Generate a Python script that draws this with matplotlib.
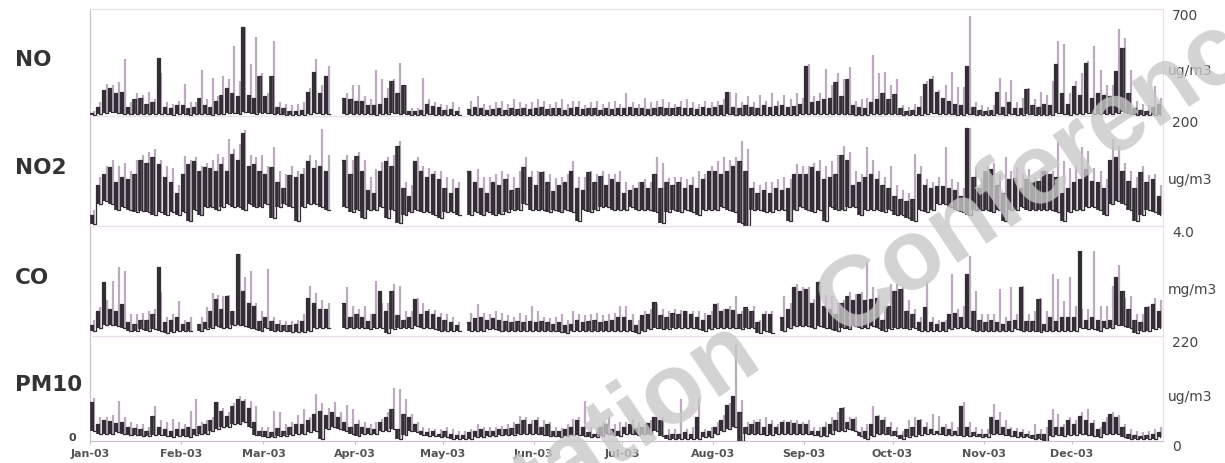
# Hourly air quality at the station, 2003: NO, NO2, CO and PM10 stacked panels
import numpy as np
import matplotlib
matplotlib.use('Agg')
import matplotlib.pyplot as plt

nan = np.nan

month_labels = ['Jan-03', 'Feb-03', 'Mar-03', 'Apr-03', 'May-03', 'Jun-03',
                'Jul-03', 'Aug-03', 'Sep-03', 'Oct-03', 'Nov-03', 'Dec-03']
month_days = [31, 28, 31, 30, 31, 30, 31, 31, 30, 31, 30, 31]

# every row is one month, 15 values of about two days each
# lo / hi = range of the dark trace, peak = top of the light trace

no_lo = [
    5, 15, 20, 25, 20, 15, 10, 15, 12, 10, 10, 15, 10, 8, 10,
    10, 8, 10, 15, 10, 8, 12, 15, 20, 20, 15, 25, 20, 15, 20,
    20, 15, 10, 8, 8, 6, 8, 15, 20, 15, 15, nan, nan, 15, 12,
    12, 10, 10, 8, 10, 15, 20, 15, 10, 5, 5, 8, 10, 8, 8,
    5, 5, 5, nan, 5, 5, 6, 5, 5, 5, 6, 5, 6, 5, 5,
    5, 6, 5, 5, 6, 5, 5, 6, 5, 5, 6, 5, 5, 6, 5,
    6, 5, 5, 6, 5, 5, 6, 5, 5, 6, 5, 6, 5, 5, 6,
    6, 8, 10, 8, 6, 8, 6, 6, 8, 6, 8, 8, 6, 8, 10,
    15, 10, 10, 12, 10, 15, 10, 15, 8, 8, 6, 10, 12, 15, 12,
    15, 6, 5, 6, 8, 15, 20, 15, 10, 10, 8, 8, 15, 6, 5,
    5, 5, 15, 8, 10, 6, 6, 15, 8, 8, 8, 8, 20, 15, 8,
    15, 12, 20, 12, 15, 12, 12, 20, 25, 12, 5, 5, 5, 6, 8]
no_hi = [
    20, 60, 170, 185, 150, 160, 60, 110, 120, 80, 90, 380, 60, 50, 70,
    75, 50, 60, 120, 70, 60, 100, 140, 185, 150, 130, 580, 140, 120, 260,
    130, 263, 60, 50, 35, 30, 40, 160, 285, 150, 263, nan, nan, 120, 110,
    95, 100, 75, 70, 80, 120, 230, 150, 200, 35, 30, 40, 80, 65, 60,
    40, 45, 30, nan, 45, 60, 50, 40, 45, 50, 40, 55, 45, 50, 45,
    50, 60, 45, 55, 50, 40, 55, 60, 45, 50, 55, 40, 50, 45, 55,
    50, 60, 55, 50, 45, 55, 60, 50, 55, 60, 50, 55, 45, 60, 55,
    60, 70, 160, 60, 50, 70, 60, 55, 70, 60, 65, 70, 60, 65, 80,
    330, 90, 100, 110, 120, 220, 130, 240, 70, 60, 55, 90, 110, 150, 110,
    144, 50, 35, 40, 60, 210, 240, 155, 120, 100, 80, 70, 330, 60, 40,
    35, 40, 155, 60, 90, 50, 55, 174, 70, 60, 80, 70, 340, 150, 80,
    196, 140, 350, 120, 150, 140, 130, 294, 447, 150, 55, 40, 35, 60, 80]
no_peak = [
    30, 90, 210, 200, 220, 370, 90, 150, 140, 160, 110, 280, 90, 80, 100,
    210, 90, 90, 300, 110, 250, 130, 260, 240, 460, 230, 580, 340, 515, 280,
    150, 490, 90, 80, 70, 80, 90, 180, 370, 200, 330, nan, nan, 150, 200,
    200, 130, 110, 300, 240, 180, 240, 350, 200, 55, 55, 250, 110, 90, 80,
    70, 90, 60, nan, 100, 130, 80, 70, 90, 100, 80, 110, 90, 80, 90,
    110, 100, 80, 90, 110, 80, 100, 95, 70, 90, 100, 80, 90, 100, 80,
    150, 90, 80, 120, 90, 100, 110, 90, 80, 100, 110, 90, 80, 100, 90,
    100, 110, 160, 150, 90, 130, 90, 140, 100, 150, 100, 140, 110, 150, 120,
    340, 130, 150, 310, 200, 280, 240, 320, 100, 110, 120, 400, 280, 290, 200,
    242, 70, 60, 80, 130, 230, 260, 170, 200, 285, 190, 190, 656, 90, 70,
    60, 70, 250, 160, 233, 90, 120, 180, 110, 160, 140, 230, 490, 470, 150,
    230, 280, 360, 460, 300, 200, 200, 567, 510, 300, 100, 80, 70, 196, 120]

no2_lo = [
    4, 40, 45, 40, 30, 35, 30, 25, 28, 25, 20, 25, 20, 25, 20,
    25, 10, 30, 20, 35, 35, 30, 35, 40, 35, 35, 30, 40, 35, 35,
    40, 15, 35, 40, 35, 10, 35, 40, 40, 35, 30, nan, nan, 35, 25,
    30, 15, 30, 30, 35, 15, 30, 5, 20, 25, 30, 25, 25, 20, 15,
    25, 25, 20, nan, 20, 25, 20, 25, 20, 22, 25, 30, 30, 40, 30,
    30, 30, 25, 30, 25, 30, 25, 10, 30, 25, 30, 35, 35, 30, 30,
    30, 35, 30, 30, 30, 25, 5, 25, 30, 25, 30, 25, 20, 30, 30,
    30, 35, 30, 25, 5, 0, 30, 30, 25, 25, 30, 30, 10, 30, 35,
    30, 25, 30, 10, 35, 30, 30, 35, 35, 20, 30, 30, 30, 25, 30,
    20, 20, 15, 10, 30, 25, 30, 40, 40, 35, 30, 25, 20, 30, 30,
    30, 25, 30, 10, 30, 30, 35, 30, 30, 30, 30, 30, 25, 10, 25,
    30, 30, 35, 35, 30, 20, 40, 45, 40, 30, 10, 20, 30, 25, 20]
no2_hi = [
    20, 75, 95, 107, 80, 90, 85, 95, 120, 115, 125, 113, 90, 80, 60,
    95, 113, 119, 100, 107, 105, 100, 113, 100, 131, 120, 170, 110, 113, 100,
    95, 107, 80, 70, 92, 90, 95, 119, 105, 110, 100, nan, nan, 120, 95,
    128, 100, 65, 60, 100, 119, 110, 146, 70, 55, 119, 100, 90, 95, 85,
    70, 60, 70, nan, 100, 80, 70, 60, 80, 75, 85, 65, 70, 107, 90,
    75, 98, 80, 64, 75, 80, 100, 70, 65, 98, 80, 91, 75, 85, 80,
    60, 65, 70, 80, 70, 94, 70, 80, 75, 80, 70, 75, 70, 85, 100,
    100, 95, 100, 110, 119, 100, 70, 60, 65, 60, 70, 65, 70, 95, 95,
    95, 107, 100, 85, 90, 95, 130, 120, 75, 80, 90, 95, 85, 75, 70,
    55, 50, 45, 50, 95, 75, 70, 73, 73, 70, 65, 55, 179, 90, 70,
    100, 104, 75, 60, 85, 88, 70, 85, 80, 82, 100, 94, 90, 60, 70,
    80, 85, 104, 82, 80, 70, 120, 125, 100, 82, 70, 98, 80, 85, 55]
no2_peak = [
    30, 90, 110, 120, 110, 115, 100, 120, 130, 135, 140, 120, 110, 105, 75,
    128, 120, 125, 110, 115, 120, 131, 125, 158, 140, 149, 175, 130, 125, 130,
    110, 143, 100, 95, 110, 100, 105, 130, 120, 176, 130, nan, nan, 130, 120,
    135, 120, 90, 103, 116, 125, 130, 155, 80, 75, 125, 110, 105, 100, 100,
    90, 85, 80, nan, 100, 104, 90, 90, 95, 100, 95, 90, 100, 125, 100,
    100, 100, 95, 88, 90, 95, 119, 90, 90, 100, 95, 100, 95, 95, 100,
    80, 75, 80, 85, 80, 125, 115, 88, 90, 90, 85, 90, 100, 95, 110,
    119, 125, 120, 125, 155, 140, 80, 75, 80, 80, 85, 90, 85, 113, 110,
    110, 115, 120, 110, 119, 130, 146, 135, 100, 95, 143, 120, 100, 90, 110,
    75, 65, 60, 131, 110, 85, 80, 90, 143, 85, 80, 70, 179, 107, 85,
    110, 115, 95, 125, 100, 108, 95, 104, 90, 100, 100, 100, 152, 119, 105,
    110, 143, 137, 105, 100, 85, 158, 145, 115, 100, 90, 110, 92, 95, 75]

co_lo = [
    0.2, 0.3, 0.4, 0.4, 0.35, 0.3, 0.2, 0.2, 0.25, 0.2, 0.25, 0.2, 0.1, 0.15, 0.2,
    0.2, 0.2, nan, 0.2, 0.25, 0.3, 0.35, 0.3, 0.3, 0.4, 0.4, 0.35, 0.3, 0.25, 0.2,
    0.3, 0.2, 0.2, 0.2, 0.15, 0.15, 0.15, 0.2, 0.3, 0.3, 0.3, nan, nan, 0.3, 0.3,
    0.3, 0.3, 0.25, 0.3, 0.3, 0.1, 0.25, 0.3, 0.3, 0.3, 0.35, 0.3, 0.3, 0.25, 0.2,
    0.2, 0.2, 0.2, nan, 0.2, 0.2, 0.2, 0.25, 0.25, 0.2, 0.2, 0.2, 0.2, 0.2, 0.2,
    0.2, 0.2, 0.2, 0.2, 0.15, 0.1, 0.2, 0.2, 0.2, 0.2, 0.2, 0.2, 0.2, 0.2, 0.2,
    0.2, 0.2, 0.1, 0.2, 0.25, 0.3, 0.25, 0.25, 0.3, 0.3, 0.3, 0.3, 0.25, 0.2, 0.25,
    0.3, 0.3, 0.3, 0.3, 0.25, 0.3, 0.3, 0.1, 0.2, 0.1, nan, 0.2, 0.3, 0.35, 0.35,
    0.35, 0.3, 0.35, 0.3, 0.25, 0.2, 0.3, 0.25, 0.35, 0.3, 0.3, 0.35, 0.3, 0.2, 0.25,
    0.3, 0.3, 0.25, 0.3, 0.2, 0.2, 0.2, 0.2, 0.2, 0.25, 0.3, 0.3, 0.3, 0.2, 0.2,
    0.2, 0.2, 0.2, 0.2, 0.2, 0.25, 0.2, 0.2, 0.2, 0.15, 0.2, 0.2, 0.2, 0.2, 0.2,
    0.2, 0.3, 0.25, 0.25, 0.2, 0.3, 0.3, 0.4, 0.35, 0.3, 0.1, 0.2, 0.2, 0.25, 0.3]
co_hi = [
    0.4, 0.9, 1.95, 1.0, 0.9, 1.16, 0.5, 0.45, 0.6, 0.6, 0.8, 2.5, 0.5, 0.6, 0.7,
    0.45, 0.5, nan, 0.45, 0.5, 0.9, 1.35, 1.0, 1.47, 0.9, 2.98, 1.65, 1.2, 1.1, 0.55,
    0.7, 0.55, 0.45, 0.4, 0.4, 0.45, 0.55, 1.4, 1.2, 1.0, 1.0, nan, nan, 1.2, 0.7,
    0.8, 0.7, 0.55, 0.8, 1.65, 0.9, 1.65, 0.75, 0.6, 0.7, 1.35, 0.8, 0.9, 0.8, 0.7,
    0.6, 0.5, 0.4, nan, 0.5, 0.65, 0.7, 0.6, 0.65, 0.6, 0.55, 0.5, 0.55, 0.5, 0.55,
    0.5, 0.55, 0.5, 0.45, 0.5, 0.4, 0.45, 0.6, 0.5, 0.55, 0.6, 0.5, 0.55, 0.6, 0.7,
    0.7, 0.6, 0.4, 0.75, 0.8, 1.22, 0.75, 0.7, 0.85, 0.8, 0.92, 0.8, 0.7, 0.6, 0.75,
    1.16, 0.9, 1.0, 0.95, 0.8, 1.04, 0.9, 0.5, 0.8, 0.8, nan, 0.7, 1.0, 1.77, 1.65,
    1.7, 1.2, 1.95, 1.1, 1.0, 0.8, 1.2, 1.47, 1.3, 1.53, 1.3, 1.35, 1.4, 0.6, 1.1,
    1.65, 1.7, 0.9, 0.8, 0.5, 1.04, 0.5, 0.45, 0.5, 0.8, 0.85, 0.7, 2.25, 0.9, 0.6,
    0.5, 0.6, 0.5, 0.45, 0.55, 0.6, 1.77, 0.55, 0.55, 1.35, 0.45, 0.7, 0.55, 0.7, 0.7,
    0.7, 3.1, 0.6, 0.7, 0.6, 0.55, 0.6, 2.13, 1.65, 1.0, 0.6, 0.5, 1.04, 1.16, 0.9]
co_peak = [
    0.6, 1.04, 1.3, 2.0, 2.5, 2.37, 0.8, 0.8, 0.85, 0.9, 1.0, 1.6, 0.7, 0.8, 1.28,
    0.6, 0.7, nan, 0.7, 1.04, 1.58, 1.5, 1.47, 1.5, 0.9, 2.98, 2.13, 2.37, 1.2, 0.9,
    2.44, 0.7, 0.6, 0.55, 0.55, 0.6, 0.8, 1.83, 1.58, 1.3, 1.2, nan, nan, 1.8, 1.1,
    1.0, 1.1, 0.8, 2.0, 1.2, 1.2, 1.9, 1.83, 0.9, 0.9, 1.4, 1.2, 1.0, 0.95, 0.85,
    0.8, 0.7, 0.5, nan, 0.85, 1.16, 0.85, 0.8, 0.9, 0.85, 0.75, 0.7, 0.85, 0.75, 1.1,
    0.9, 0.7, 0.65, 0.7, 0.8, 0.6, 0.92, 0.8, 0.75, 0.8, 0.85, 0.75, 0.8, 0.85, 1.1,
    1.1, 0.8, 0.6, 0.9, 1.0, 1.16, 1.0, 0.92, 1.0, 0.95, 0.9, 0.9, 0.9, 0.85, 0.92,
    1.2, 1.0, 1.1, 1.47, 0.9, 1.0, 1.1, 0.6, 0.9, 0.92, nan, 1.47, 1.2, 1.9, 1.77,
    1.8, 1.35, 2.0, 1.5, 1.47, 1.2, 1.3, 1.6, 1.53, 1.6, 2.68, 1.77, 1.5, 1.1, 1.9,
    1.9, 1.8, 1.3, 1.0, 0.7, 1.95, 0.7, 0.6, 0.6, 2.25, 1.0, 1.1, 2.92, 1.65, 0.8,
    0.8, 0.8, 1.7, 0.7, 1.77, 0.8, 1.83, 0.8, 0.9, 1.4, 0.9, 2.25, 2.07, 1.28, 2.13,
    1.1, 1.0, 1.0, 3.1, 1.1, 1.1, 1.83, 2.6, 1.4, 1.47, 0.8, 0.8, 1.1, 1.4, 1.3]

pm10_lo = [
    20, 15, 15, 15, 18, 15, 12, 12, 10, 10, 12, 12, 10, 8, 10,
    10, 8, 12, 15, 15, 20, 25, 30, 30, 35, 35, 40, 30, 12, 10,
    8, 8, 10, 10, 12, 15, 15, 18, 20, 5, 25, 30, 25, 20, 15,
    10, 15, 15, 15, 20, 20, 25, 5, 12, 20, 18, 12, 10, 10, 8,
    8, 5, 5, 5, 5, 8, 8, 10, 10, 12, 12, 12, 15, 15, 15,
    15, 12, 10, 10, 8, 10, 12, 12, 10, 8, 8, 10, 15, 12, 10,
    15, 15, 12, 15, 15, 20, 10, 5, 5, 5, 5, 5, 5, 8, 8,
    15, 20, 25, 30, 0, 15, 15, 15, 12, 12, 15, 15, 15, 15, 15,
    15, 12, 10, 10, 15, 20, 20, 25, 20, 10, 5, 10, 15, 15, 12,
    10, 5, 8, 10, 12, 15, 15, 15, 12, 12, 12, 10, 10, 10, 8,
    8, 15, 15, 12, 10, 8, 8, 8, 5, 5, 0, 10, 12, 10, 12,
    12, 15, 12, 10, 8, 15, 15, 15, 8, 5, 5, 5, 5, 5, 8]
pm10_hi = [
    81, 35, 43, 42, 38, 40, 30, 28, 25, 22, 53, 30, 25, 20, 25,
    25, 30, 25, 32, 35, 45, 81, 63, 53, 74, 88, 84, 70, 40, 22,
    20, 18, 28, 22, 30, 35, 35, 43, 57, 63, 55, 60, 50, 40, 30,
    35, 30, 28, 25, 40, 50, 67, 25, 57, 50, 35, 20, 18, 20, 15,
    22, 15, 12, 12, 18, 20, 25, 22, 22, 25, 25, 28, 35, 43, 35,
    45, 30, 35, 22, 20, 25, 30, 43, 30, 18, 15, 30, 35, 25, 22,
    30, 35, 28, 30, 38, 50, 45, 12, 15, 15, 18, 15, 50, 18, 20,
    30, 43, 75, 95, 60, 30, 35, 40, 30, 35, 30, 40, 40, 38, 35,
    35, 22, 20, 30, 35, 45, 70, 40, 46, 18, 20, 35, 53, 43, 30,
    22, 12, 25, 30, 43, 30, 25, 22, 30, 25, 22, 74, 30, 18, 15,
    15, 50, 45, 30, 25, 22, 18, 15, 12, 15, 15, 43, 30, 30, 43,
    35, 53, 43, 38, 25, 40, 57, 50, 30, 15, 12, 10, 12, 15, 18]
pm10_peak = [
    90, 50, 50, 55, 84, 50, 40, 35, 35, 30, 74, 45, 40, 46, 40,
    35, 63, 88, 40, 45, 50, 81, 70, 60, 80, 95, 88, 84, 74, 30,
    30, 63, 60, 35, 40, 55, 67, 50, 98, 80, 70, 81, 60, 75, 67,
    45, 40, 35, 40, 46, 60, 112, 109, 88, 57, 40, 30, 28, 25, 25,
    30, 25, 22, 20, 25, 36, 30, 30, 30, 32, 35, 40, 53, 50, 45,
    50, 43, 40, 30, 28, 35, 46, 50, 84, 30, 28, 40, 50, 35, 39,
    40, 46, 40, 36, 45, 50, 50, 25, 25, 88, 25, 30, 91, 25, 30,
    40, 55, 80, 203, 85, 40, 45, 46, 50, 45, 36, 43, 45, 43, 40,
    45, 30, 30, 40, 50, 60, 72, 50, 50, 30, 35, 74, 55, 50, 40,
    30, 20, 43, 50, 46, 40, 57, 53, 35, 40, 30, 81, 40, 30, 25,
    25, 77, 60, 43, 30, 28, 25, 22, 36, 25, 30, 67, 57, 35, 50,
    43, 60, 67, 45, 30, 50, 60, 55, 35, 25, 20, 18, 22, 25, 30]

panel_names = ['NO', 'NO2', 'CO', 'PM10']
panel_units = ['ug/m3', 'ug/m3', 'mg/m3', 'ug/m3']
panel_tops = [700, 200, 4.0, 220]
panel_top_labels = ['700', '200', '4.0', '220']

series = [(no_lo, no_hi, no_peak), (no2_lo, no2_hi, no2_peak),
          (co_lo, co_hi, co_peak), (pm10_lo, pm10_hi, pm10_peak)]

DARK = '#332e34'
LIGHT = '#bcaabf'
EDGE = '#cdbcd0'

W, H = 1225, 464
fig = plt.figure(figsize=(W / 100, H / 100), dpi=100)
fig.patch.set_facecolor('white')

days = np.array(month_days, dtype=float)
starts = np.concatenate([[0], np.cumsum(days)[:-1]])

# pixel rows of the four panels
px_left, px_right = 90, 1163
rows = [(10, 117), (117, 227), (227, 337), (337, 442)]

for k, (top_px, bot_px) in enumerate(rows):
    ax = fig.add_axes([px_left / W, 1 - bot_px / H,
                       (px_right - px_left) / W, (bot_px - top_px) / H])
    lo, hi, peak = [np.array(a, dtype=float) for a in series[k]]
    nb = len(lo) // 12
    left = (starts[:, None] + np.arange(nb)[None, :] * (days[:, None] / nb)).ravel()
    width = np.repeat(days / nb, nb)

    # light trace: spikes between the dark strokes
    ax.vlines(left + width * 0.72, lo, peak, color=LIGHT, lw=1.6, zorder=2)

    # dark trace: strokes from lo to hi joined by a thin step line
    ax.vlines(left + width * 0.28, lo, hi, color=DARK, lw=2.6, zorder=3)
    xd = np.column_stack([left, left + width * 0.5]).ravel()
    yd = np.column_stack([hi, lo]).ravel()
    ax.plot(xd, yd, drawstyle='steps-post', color=DARK, lw=0.9, zorder=3)

    ax.set_xlim(0, 365)
    ax.set_ylim(0, panel_tops[k])
    ax.set_yticks([])
    ax.set_facecolor('none')
    for side in ['top', 'right']:
        ax.spines[side].set_color('#eadfea')
        ax.spines[side].set_linewidth(0.8)
    ax.spines['left'].set_color(EDGE)
    ax.spines['bottom'].set_color(EDGE)

    if k < 3:
        ax.set_xticks([])
    else:
        ax.set_xticks(starts)
        ax.set_xticklabels(month_labels, fontsize=8, fontweight='bold', color='#555555')
        ax.tick_params(axis='x', length=2, color=EDGE, pad=3)

    mid_px = (top_px + bot_px) / 2
    fig.text(15 / W, 1 - (mid_px - 4) / H, panel_names[k], ha='left', va='center',
             fontsize=15.5, fontweight='bold', color='#333333')
    fig.text(1168 / W, 1 - (mid_px + 8) / H, panel_units[k], ha='left', va='center',
             fontsize=10, color='#444444')
    fig.text(1172 / W, 1 - (top_px + 6) / H, panel_top_labels[k], ha='left', va='center',
             fontsize=10, color='#444444')

fig.text(1172 / W, 1 - 447 / H, '0', ha='left', va='center', fontsize=10, color='#444444')
fig.text(72 / W, 1 - 438 / H, '0', ha='center', va='center', fontsize=8,
         fontweight='bold', color='#444444')

# watermark from the source slide, two words placed separately
wm = dict(rotation=34, rotation_mode='anchor', fontsize=72, fontweight='bold',
          family='Liberation Sans', color='#c8c8c8', alpha=0.8, zorder=10)
fig.text(764 / W, 1 - 362 / H, 'Presentation', ha='right', va='baseline', **wm)
fig.text(842 / W, 1 - 338 / H, 'Conference', ha='left', va='baseline', **wm)

fig.savefig('out.png', dpi=100, facecolor='white')
